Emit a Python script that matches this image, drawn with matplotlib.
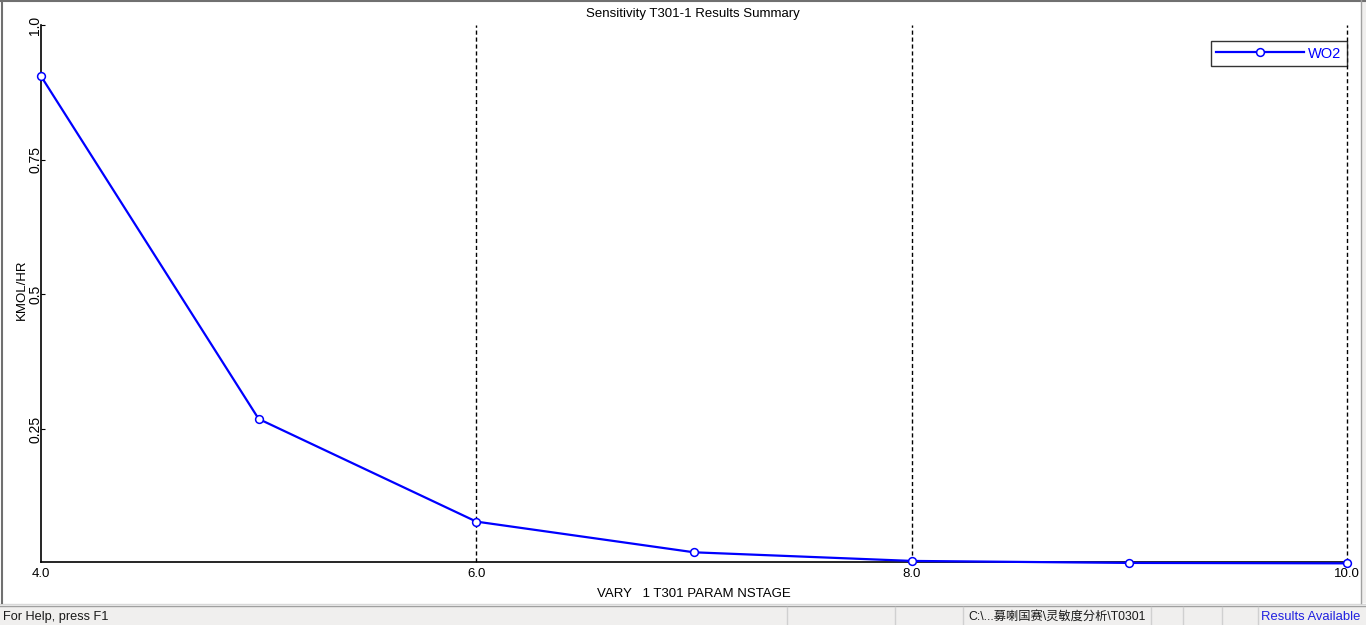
import matplotlib
matplotlib.use("Agg")
import matplotlib.pyplot as plt
from matplotlib.patches import Rectangle
from matplotlib.lines import Line2D

# data
nstage = [4, 5, 6, 7, 8, 9, 10]
wo2 = [0.905, 0.2686, 0.078, 0.021, 0.005, 0.0013, 0.0005]
xticks = [4, 6, 8, 10]
xtick_labels = ["4.0", "6.0", "8.0", "10.0"]
yticks = [0.25, 0.5, 0.75, 1.0]
ytick_labels = ["0.25", "0.5", "0.75", "1.0"]
status_texts = ["For Help, press F1", "C:\\...募喇国赛\\灵敏度分析\\T0301", "Results Available"]

plt.rcParams['font.family'] = ['Liberation Sans', 'Noto Sans CJK SC', 'DejaVu Sans']

W, H = 1366, 625
fig = plt.figure(figsize=(W / 100, H / 100), dpi=100)
fig.patch.set_facecolor('white')


def fx(px):
    return px / W


def fy(py):
    return 1 - py / H


# window frame and status bar
fig.patches.append(Rectangle((0, fy(H)), 1, fy(606) - fy(H), transform=fig.transFigure,
                             facecolor='#f0efee', edgecolor='none', zorder=0))
fig.lines.append(Line2D([0, 1], [fy(603.5)] * 2, transform=fig.transFigure, color='#d8d8d8', lw=1))
fig.lines.append(Line2D([0, 1], [fy(605.5)] * 2, transform=fig.transFigure, color='#a0a0a0', lw=1))
fig.lines.append(Line2D([0, 1], [fy(0.5)] * 2, transform=fig.transFigure, color='#707070', lw=1.5))
fig.lines.append(Line2D([fx(1.5)] * 2, [fy(0), fy(603)], transform=fig.transFigure, color='#707070', lw=1.5))
fig.lines.append(Line2D([fx(1361)] * 2, [fy(0), fy(603)], transform=fig.transFigure, color='#a0a0a0', lw=1))
fig.patches.append(Rectangle((fx(1362), fy(603)), fx(4), fy(0) - fy(603), transform=fig.transFigure,
                             facecolor='#f0efee', edgecolor='none', zorder=0))
for px in [787, 895, 963, 1151, 1183, 1222, 1258]:
    fig.lines.append(Line2D([fx(px)] * 2, [fy(607), fy(625)], transform=fig.transFigure,
                            color='#d0d0d0', lw=1))
fig.text(fx(3), fy(617), status_texts[0], fontsize=9.2, va='center', ha='left', color='#1a1a1a')
fig.text(fx(968), fy(617), status_texts[1], fontsize=8.8, va='center', ha='left', color='#1a1a1a')
fig.text(fx(1360), fy(617), status_texts[2], fontsize=9.4, va='center', ha='right', color='#2020e0')

# plot area
left, right, top, bottom = 41, 1347, 25, 562
ax = fig.add_axes([fx(left), fy(bottom), fx(right - left), fy(top) - fy(bottom)])
ax.set_xlim(4, 10)
ax.set_ylim(0.003, 1.0)
for s in ['top', 'right']:
    ax.spines[s].set_visible(False)
for s in ['left', 'bottom']:
    ax.spines[s].set_linewidth(1.2)

for xv in xticks[1:]:
    ax.axvline(xv, color='black', lw=1, ls=(0, (3, 2)), zorder=1, clip_on=False)

ax.plot(nstage, wo2, color='#0000ff', lw=1.6, marker='o', ms=5.6, mfc='white', mec='#0000ff',
        mew=1.1, clip_on=False, zorder=3, label='WO2')

ax.set_xticks(xticks)
ax.set_xticklabels(xtick_labels)
ax.set_yticks(yticks)
ax.set_yticklabels(ytick_labels, rotation=90, va='center')
ax.tick_params(axis='x', length=0, pad=4, labelsize=9.5)
ax.tick_params(axis='y', direction='in', length=3, pad=-1, labelsize=10)

ax.set_xlabel("VARY   1 T301 PARAM NSTAGE", fontsize=9.5, labelpad=6)
fig.text(fx(693), fy(14), "Sensitivity T301-1 Results Summary", fontsize=9.5, ha='center', va='center')
fig.text(fx(21.5), fy(290), "KMOL/HR", fontsize=9.5, rotation=90, ha='center', va='center')

leg = ax.legend(loc='upper right', bbox_to_anchor=(1.0, 1 - 16 / (bottom - top)),
                frameon=True, fancybox=False, edgecolor='black', fontsize=10.5,
                handlelength=6.0, borderpad=0.38, handletextpad=0.3, borderaxespad=0)
leg.get_frame().set_linewidth(1)
for t in leg.get_texts():
    t.set_color('#0000ff')

fig.savefig("out.png", dpi=100)
